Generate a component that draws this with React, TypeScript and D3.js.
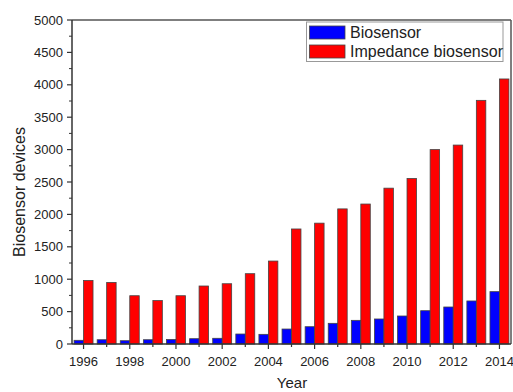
import React from "react";
import * as d3 from "d3";

const years = [1996,1997,1998,1999,2000,2001,2002,2003,2004,2005,2006,2007,2008,2009,2010,2011,2012,2013,2014];
const biosensor = [57,66,51,66,70,82,88,154,149,231,267,319,365,386,432,514,571,664,808];
const impedance = [980,950,745,670,745,895,930,1085,1280,1775,1865,2085,2160,2405,2555,3000,3070,3760,4090];
const seriesNames = ["Biosensor", "Impedance biosensor"];
const seriesColors = ["#0000ff", "#ff0000"];
const yMajorTicks = [0,500,1000,1500,2000,2500,3000,3500,4000,4500,5000];
const xLabelYears = [1996,1998,2000,2002,2004,2006,2008,2010,2012,2014];

export default function App() {
  const W = 513, H = 392;
  const left = 72, right = 511, top = 20, bottom = 344;
  const x0 = d3.scaleBand<number>().domain(years).range([left, right]).paddingInner(0.18).paddingOuter(0.09);
  const x1 = d3.scaleBand<number>().domain([0, 1]).range([0, x0.bandwidth()]);
  const y = d3.scaleLinear().domain([0, 5000]).range([bottom, top]);
  const center = (yr: number) => (x0(yr) as number) + x0.bandwidth() / 2;
  const minorY = d3.range(250, 5000, 500);
  const axisColor = "#333";
  const font = "Arial, 'Liberation Sans', sans-serif";
  const data = [biosensor, impedance];

  return (
    <svg width={W} height={H} style={{ position: "absolute", left: 0, top: 0, background: "#fff" }} fontFamily={font}>
      {data.map((vals, si) =>
        years.map((yr, i) => (
          <rect key={`${si}-${yr}`}
            x={(x0(yr) as number) + (x1(si) as number)}
            y={y(vals[i])}
            width={x1.bandwidth()}
            height={bottom - y(vals[i])}
            fill={seriesColors[si]}
            stroke="#444" strokeWidth={0.8} />
        ))
      )}
      <line x1={left} y1={top} x2={right} y2={top} stroke="#555" strokeWidth={1.5} />
      <line x1={right} y1={top} x2={right} y2={bottom} stroke="#555" strokeWidth={1.5} />
      <line x1={left} y1={top} x2={left} y2={bottom} stroke={axisColor} strokeWidth={1.5} />
      <line x1={left} y1={bottom} x2={right} y2={bottom} stroke={axisColor} strokeWidth={1.5} />
      {yMajorTicks.map(t => (
        <g key={t}>
          <line x1={left - 5} x2={left} y1={y(t)} y2={y(t)} stroke={axisColor} strokeWidth={1.2} />
          <text x={left - 9} y={y(t)} dy="0.35em" textAnchor="end" fontSize={13} fill="#222">{t}</text>
        </g>
      ))}
      {minorY.map(t => (
        <line key={t} x1={left - 3} x2={left} y1={y(t)} y2={y(t)} stroke={axisColor} strokeWidth={1} />
      ))}
      {years.map(yr => {
        const major = xLabelYears.includes(yr);
        return (
          <g key={yr}>
            <line x1={center(yr)} x2={center(yr)} y1={bottom} y2={bottom + (major ? 5 : 3)} stroke={axisColor} strokeWidth={1.2} />
            {major && <text x={center(yr)} y={366} textAnchor="middle" fontSize={13} fill="#222">{yr}</text>}
          </g>
        );
      })}
      <text x={292} y={388} textAnchor="middle" fontSize={15} fill="#222">Year</text>
      <text transform={`translate(25,${(top + bottom) / 2 + 10}) rotate(-90)`} textAnchor="middle" fontSize={16} fill="#222">Biosensor devices</text>
      <rect x={306.5} y={22} width={196.5} height={39.5} fill="#fff" stroke="#999" strokeWidth={1} />
      {seriesNames.map((n, i) => (
        <g key={n}>
          <rect x={309.5} y={26 + i * 19} width={35.5} height={13} fill={seriesColors[i]} stroke="#444" strokeWidth={0.8} />
          <text x={350} y={37.5 + i * 19} fontSize={16} fill="#222">{n}</text>
        </g>
      ))}
    </svg>
  );
}
